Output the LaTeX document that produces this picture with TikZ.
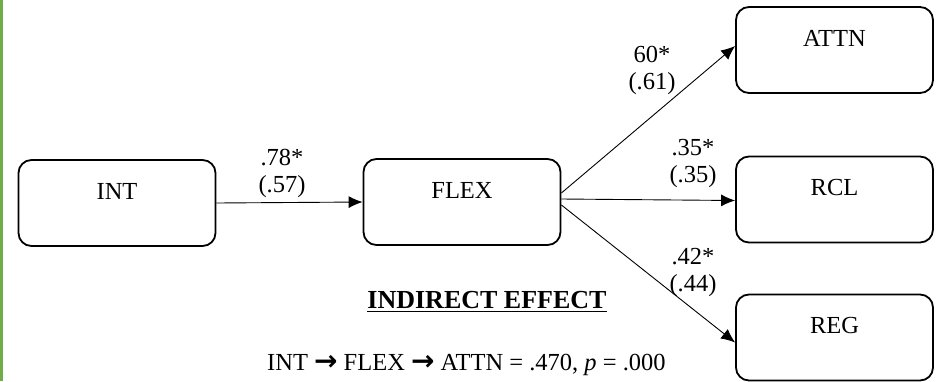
\documentclass[tikz,border=0pt]{standalone}
\usepackage{fontspec}
\setmainfont{Liberation Serif}
\newfontfamily\arrowfont{DejaVu Sans}
\usepackage{xcolor}
\usetikzlibrary{arrows.meta}
\definecolor{barGreen}{HTML}{70AD47}
\newcommand\thickul[1]{\setbox0\hbox{#1}\leavevmode\rlap{\rule[-3.5pt]{\wd0}{1.8pt}}\box0}
\newcommand\thickarrow{{\arrowfont\bfseries\fontsize{28}{28}\selectfont →}}

\begin{document}
\begin{tikzpicture}[x=1pt,y=-1pt,
    varbox/.style={draw,rounded corners=13pt,line width=1.8pt,minimum width=197pt,minimum height=86pt,
        text height=17pt,text depth=25pt,font=\fontsize{24.5}{28}\selectfont},
    coef/.style={align=center,inner sep=0pt,font=\fontsize{24.5}{27}\selectfont},
    path/.style={line width=0.9pt,-{Latex[length=14pt,width=12pt]}}]
    \useasboundingbox (0,0) rectangle (937,381);
    \fill[barGreen] (0,0) rectangle (2.5,381);
    % variables
    \node[varbox] (INT)  at (117,203) {INT};
    \node[varbox] (FLEX) at (462,202) {FLEX};
    \node[varbox] (ATTN) at (834.5,50) {ATTN};
    \node[varbox] (RCL)  at (834.5,199.5) {RCL};
    \node[varbox] (REG)  at (834.5,337.5) {REG};
    % paths
    \draw[path] (INT.east) -- (FLEX.west);
    \draw[path] ([yshift=9pt]FLEX.east) -- ([yshift=4pt]ATTN.west);
    \draw[path] ([yshift=3pt]FLEX.east) -- ([yshift=-1pt]RCL.west);
    \draw[path] ([yshift=-3pt]FLEX.east) -- ([yshift=-5pt]REG.west);
    % coefficients
    \node[coef] (c78) at (282,173) {.78*\\(.57)};
    \node[coef] (c60) at (652,70) {60*\\(.61)};
    \node[coef] (c35) at (693,163) {.35*\\(.35)};
    \node[coef] (c42) at (693,272) {.42*\\(.44)};
    % indirect effect
    \node[coef,font=\fontsize{26}{28}\selectfont\bfseries] (indirect) at (487,302) {\thickul{INDIRECT EFFECT}};
    \node[coef,anchor=west] (effect) at (267,365) {INT \thickarrow{} FLEX \thickarrow{} ATTN = .470, \textit{p} = .000};
\end{tikzpicture}
\end{document}
